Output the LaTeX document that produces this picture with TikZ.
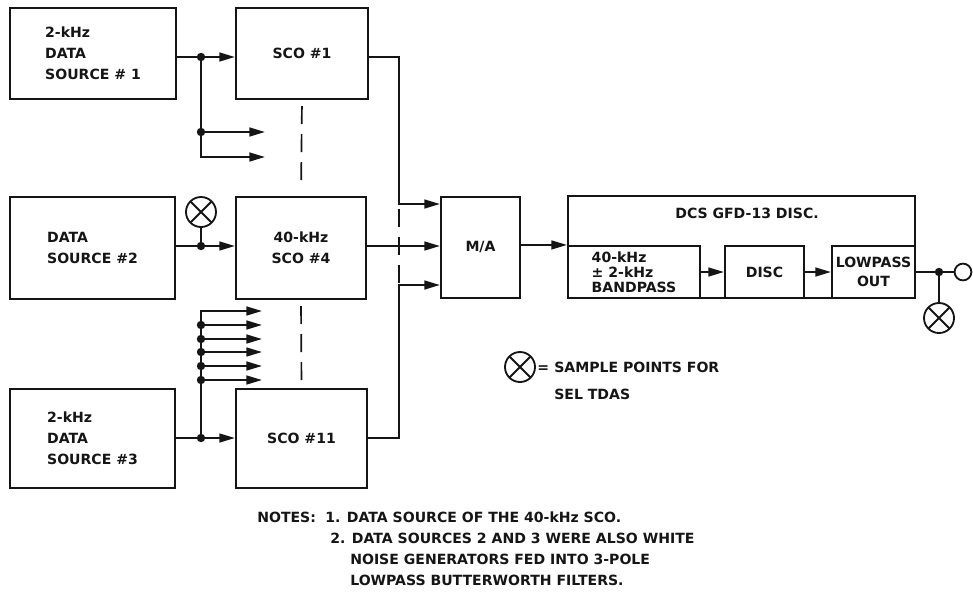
\documentclass[tikz,border=0pt]{standalone}
\usepackage{fontspec}
\setmainfont{DejaVu Sans}
\usepackage{xcolor}
\usetikzlibrary{positioning, arrows.meta, calc}
\definecolor{ink}{HTML}{151515}
\definecolor{paper}{HTML}{FFFFFF}

\begin{document}
\begin{tikzpicture}[
    x=0.025cm, y=-0.025cm, color=ink,
    block/.style={rectangle, draw=ink, line width=1.5pt, inner sep=0pt,
                  align=center, font=\bfseries\fontsize{10}{15}\selectfont},
    srcbox/.style={block, align=left},
    txt/.style={inner sep=0pt, text=ink, font=\bfseries\fontsize{10}{12}\selectfont},
    joint/.style={circle, fill=ink, inner sep=0pt, minimum size=0.21cm},
    sample/.style={circle, draw=ink, line width=1.3pt, inner sep=0pt, minimum size=0.75cm,
                   path picture={\draw[ink, line width=1.3pt]
                     (path picture bounding box.north west) -- (path picture bounding box.south east)
                     (path picture bounding box.north east) -- (path picture bounding box.south west);}},
    tap/.style={circle, draw=ink, line width=1.3pt, fill=paper, inner sep=0pt, minimum size=0.42cm},
    arrow/.style={-{Triangle[length=3.9mm, width=2.2mm]}, line width=1.4pt, ink},
    wire/.style={line width=1.4pt, ink},
    gap/.style={ink, line width=1.2pt, dash pattern=on 4.5mm off 2.5mm}
  ]
    \fill[paper] (0,0) rectangle (973,601);

    \node[srcbox, minimum width=4.15cm, minimum height=2.275cm] (ds1) at (93,53.5) {2-kHz\\DATA\\SOURCE \# 1};
    \node[block, minimum width=3.3cm, minimum height=2.275cm] (sco1) at (302,53.5) {SCO \#1};
    \node[srcbox, minimum width=4.125cm, minimum height=2.55cm] (ds2) at (92.5,248) {DATA\\SOURCE \#2};
    \node[block, minimum width=3.25cm, minimum height=2.55cm] (sco4) at (301,248) {40-kHz\\SCO \#4};
    \node[srcbox, minimum width=4.125cm, minimum height=2.475cm] (ds3) at (92.5,438.5) {2-kHz\\DATA\\SOURCE \#3};
    \node[block, minimum width=3.275cm, minimum height=2.475cm] (sco11) at (301.5,438.5) {SCO \#11};
    \node[block, minimum width=1.975cm, minimum height=2.525cm] (ma) at (480.5,247.5) {M/A};

    \node[block, minimum width=8.675cm, minimum height=2.55cm] (dcs) at (741.5,247) {};
    \node[txt] (dcstitle) at (747,213) {DCS GFD-13 DISC.};
    \node[block, minimum width=3.3cm, minimum height=1.3cm, align=left,
          font=\bfseries\fontsize{10}{10.8}\selectfont] (bp) at (634,272) {40-kHz\\± 2-kHz\\BANDPASS};
    \node[block, minimum width=1.975cm, minimum height=1.3cm] (disc) at (764.5,272) {DISC};
    \node[block, minimum width=2.075cm, minimum height=1.3cm,
          font=\bfseries\fontsize{10}{14}\selectfont] (lp) at (873.5,272) {LOWPASS\\OUT};

    \node[joint] (j1) at (201,57) {};
    \node[joint] (j1b) at (201,132) {};
    \coordinate (f1) at (265,132);
    \coordinate (f2) at (265,157);
    \draw[wire] (ds1.east |- j1) -- (j1);
    \draw[arrow] (j1) -- (j1 -| sco1.west);
    \draw[wire] (j1) -- (j1b);
    \draw[arrow] (j1b) -- (f1);
    \draw[arrow] (j1b) |- (f2);

    \node[joint] (j2) at (201,246) {};
    \node[sample] (sp2) at (201,212) {};
    \draw[wire] (ds2.east |- j2) -- (j2);
    \draw[arrow] (j2) -- (j2 -| sco4.west);
    \draw[wire] (sp2) -- (j2);

    \node[joint] (j3) at (201,438) {};
    \coordinate (g0) at (262,311);
    \draw[wire] (ds3.east |- j3) -- (j3);
    \draw[arrow] (j3) -- (j3 -| sco11.west);
    \draw[arrow] (j3) |- (g0);
    \foreach \y [count=\i] in {325,339,352,366,380} {
      \node[joint] (k\i) at (201,\y) {};
      \coordinate (g\i) at (262,\y);
      \draw[arrow] (k\i) -- (g\i);
    }

    \draw[gap, shorten <=0.15cm, shorten >=0.18cm] (sco1.south) -- (sco4.north);
    \draw[gap, shorten <=0.15cm, shorten >=0.18cm] (sco4.south) -- (sco11.north);

    \coordinate (m1) at (399,204);
    \coordinate (m3) at (399,285);
    \draw[arrow] (sco1.east |- j1) -| (m1) -- (m1 -| ma.west);
    \draw[arrow] (sco4.east |- j2) -- (j2 -| ma.west);
    \draw[arrow] (sco11.east |- j3) -| (m3) -- (m3 -| ma.west);
    \draw[gap, shorten <=0.12cm] (m1) -- (m3);

    \draw[arrow] (ma.east |- bp.north) -- (bp.north west);
    \draw[arrow] (bp.east) -- (bp.east -| disc.west);
    \draw[arrow] (disc.east) -- (disc.east -| lp.west);

    \node[joint] (jo) at (939,272) {};
    \node[tap] (oc) at (963,272) {};
    \node[sample] (sp3) at (939,318) {};
    \draw[wire] (lp.east) -- (jo) -- (oc);
    \draw[wire] (jo) -- (sp3);

    \node[sample] (key) at (520,367) {};
    \node[txt, anchor=base west] (eq) at (537,372) {=};
    \node[txt, anchor=base west] (key1) at (554,372) {SAMPLE POINTS FOR};
    \node[txt, anchor=base west] (key2) at ($(key1.base west)+(0,27)$) {SEL TDAS};

    \node[txt, anchor=base west] (notes) at (257,522) {NOTES:};
    \node[txt, anchor=base west] (n1) at (325,522) {1. DATA SOURCE OF THE 40-kHz SCO.};
    \node[txt, anchor=base west] (n2) at (330,543) {2. DATA SOURCES 2 AND 3 WERE ALSO WHITE};
    \node[txt, anchor=base west] (n3) at (350,564) {NOISE GENERATORS FED INTO 3-POLE};
    \node[txt, anchor=base west] (n4) at (350,585) {LOWPASS BUTTERWORTH FILTERS.};
  \end{tikzpicture}
\end{document}
